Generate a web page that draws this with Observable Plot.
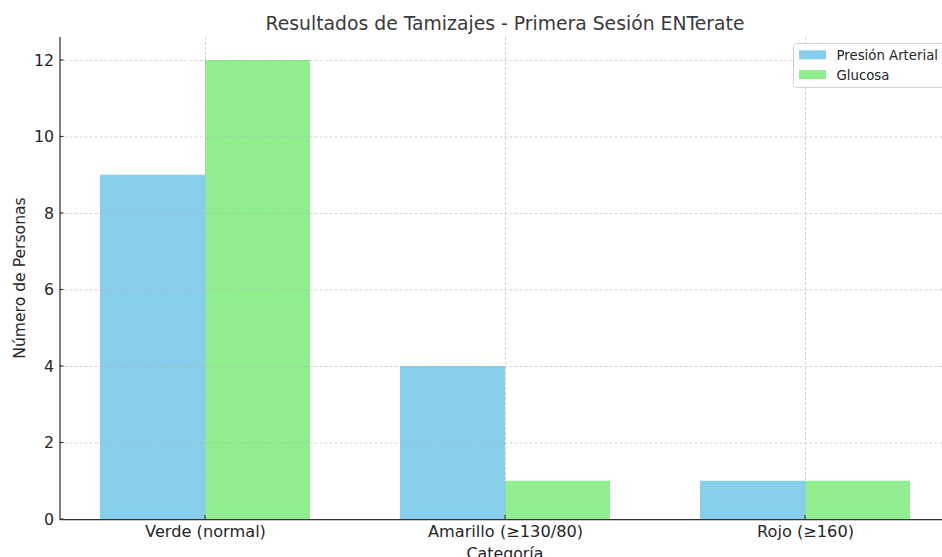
<!DOCTYPE html>
<html><head><meta charset="utf-8">
<script src="https://cdn.jsdelivr.net/npm/d3@7"></script>
<script src="https://cdn.jsdelivr.net/npm/@observablehq/plot@0.6"></script>
<style>html,body{margin:0;padding:0;overflow:hidden;background:#fff;width:942px;height:557px}</style>
</head><body><div id="chart"></div>
<script>
const categories = ["Verde (normal)", "Amarillo (≥130/80)", "Rojo (≥160)"];
const seriesNames = ["Presión Arterial", "Glucosa"];
const presionArterial = [9, 4, 1];
const glucosa = [12, 1, 1];
const yTicks = [0, 2, 4, 6, 8, 10, 12];
const xTicks = [0, 1, 2];
const colors = ["#87CEEB", "#90EE90"];
const titleText = "Resultados de Tamizajes - Primera Sesión ENTerate";
const xLabel = "Categoría";
const yLabel = "Número de Personas";

const barWidth = 0.35;
const seriesValues = [presionArterial, glucosa];
const rows = [];
seriesValues.forEach((vals, s) => vals.forEach((v, i) => rows.push({cat: i, serie: seriesNames[s], s, value: v})));

const W = 942, H = 557;
const xDomain = [-0.485, categories.length - 1 + 0.485];
const gridStyle = {stroke: "#b0b0b0", strokeOpacity: 0.7, strokeDasharray: "3,2", strokeWidth: 0.8};
const chart = Plot.plot({
  width: W, height: H,
  marginLeft: 59.5, marginRight: -8.5, marginTop: 37, marginBottom: 38,
  style: {fontFamily: "DejaVu Sans", fontSize: "15.8px", color: "#262626", background: "white", overflow: "hidden"},
  x: {type: "linear", domain: xDomain, range: [59.5, 950.5]},
  y: {domain: [0, 12.6], range: [519, 37]},
  color: {domain: seriesNames, range: colors},
  marks: [
    Plot.rect(rows, {x1: d => d.cat + (d.s - 1) * barWidth, x2: d => d.cat + d.s * barWidth, y1: d => 0, y2: "value", fill: "serie"}),
    Plot.gridY(yTicks, gridStyle),
    Plot.gridX(xTicks, gridStyle),
    Plot.ruleX([xDomain[0]], {stroke: "#333", strokeWidth: 1.25}),
    Plot.ruleY([0], {stroke: "#333", strokeWidth: 1.25}),
    Plot.axisY(yTicks, {tickSize: 0, tickPadding: 6, label: null, fontSize: 15.8, fill: "#262626"}),
    Plot.axisX(xTicks, {tickSize: 0, tickPadding: 5.5, label: null, fontSize: 16.2, fill: "#262626", tickFormat: i => categories[i]})
  ]
});
document.getElementById("chart").appendChild(chart);

const svg = d3.select(chart);
const xs = chart.scale("x"), ys = chart.scale("y");
const sx = v => xs.apply(v), sy = v => ys.apply(v);
// inward tick marks
yTicks.forEach(t => svg.append("line").attr("x1", sx(xDomain[0])).attr("x2", sx(xDomain[0]) + 4)
  .attr("y1", sy(t)).attr("y2", sy(t)).attr("stroke", "#333").attr("stroke-width", 1.1));
xTicks.forEach(t => svg.append("line").attr("x1", sx(t)).attr("x2", sx(t))
  .attr("y1", sy(0)).attr("y2", sy(0) - 4).attr("stroke", "#333").attr("stroke-width", 1.1));

// title and axis labels
const midX = (sx(xDomain[0]) + sx(xDomain[1])) / 2;
svg.append("text").attr("x", midX).attr("y", 30).attr("text-anchor", "middle")
  .attr("font-family", "DejaVu Sans").attr("font-size", 18.8).attr("fill", "#3a3a3a").text(titleText);
svg.append("text").attr("x", midX).attr("y", 559).attr("text-anchor", "middle")
  .attr("font-family", "DejaVu Sans").attr("font-size", 15.8).attr("fill", "#262626").text(xLabel);
svg.append("text").attr("transform", `translate(24.5,${(sy(0) + sy(12.6)) / 2}) rotate(-90)`).attr("text-anchor", "middle")
  .attr("font-family", "DejaVu Sans").attr("font-size", 15.6).attr("fill", "#262626").text(yLabel);

// legend
const lg = svg.append("g");
lg.append("rect").attr("x", 793.5).attr("y", 43.5).attr("width", 180).attr("height", 44).attr("rx", 3)
  .attr("fill", "white").attr("fill-opacity", 0.8).attr("stroke", "#d0d0d0").attr("stroke-width", 1);
seriesNames.forEach((name, k) => {
  const y0 = 50.3 + k * 19.8;
  lg.append("rect").attr("x", 799).attr("y", y0).attr("width", 27).attr("height", 9).attr("fill", chart.scale("color").apply(name));
  lg.append("text").attr("x", 836.5).attr("y", y0 + 9.4).attr("text-anchor", "start").attr("font-family", "DejaVu Sans").attr("font-size", 13.3)
    .attr("fill", "#262626").text(name);
});
</script></body></html>
